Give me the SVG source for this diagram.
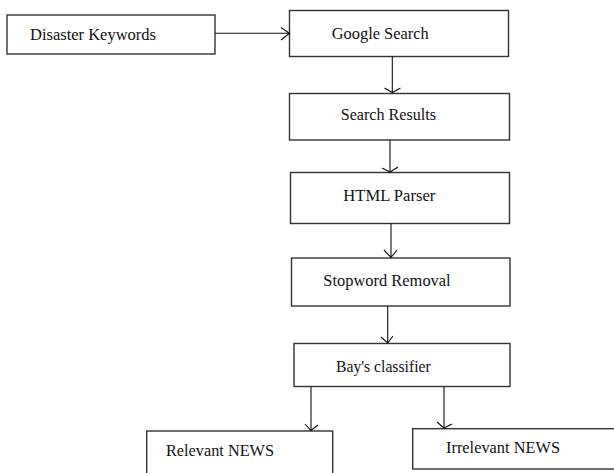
<svg xmlns="http://www.w3.org/2000/svg" width="614" height="473" viewBox="0 0 614 473">
<style>
.box{fill:#fff;stroke:#333;stroke-width:1.4}
.lbl{font-family:"Liberation Serif","Times New Roman",serif;font-size:17px;fill:#111}
.ln{stroke:#111;stroke-width:1.1;fill:none}
</style>
<rect width="614" height="473" fill="#fff"/>
<g id="disaster-keywords"><rect class="box" x="7" y="15" width="208" height="39"/><text class="lbl" x="30" y="40" textLength="126" lengthAdjust="spacingAndGlyphs">Disaster Keywords</text></g>
<g id="google-search"><rect class="box" x="289.5" y="10.5" width="219" height="46"/><text class="lbl" x="331.7" y="39.3" textLength="97" lengthAdjust="spacingAndGlyphs">Google Search</text></g>
<g id="search-results"><rect class="box" x="289.5" y="93.5" width="220" height="46.5"/><text class="lbl" x="340.7" y="120" textLength="95.3" lengthAdjust="spacingAndGlyphs">Search Results</text></g>
<g id="html-parser"><rect class="box" x="290.5" y="172.5" width="219" height="51"/><text class="lbl" x="343.3" y="200.7" textLength="92" lengthAdjust="spacingAndGlyphs">HTML Parser</text></g>
<g id="stopword-removal"><rect class="box" x="291.5" y="258" width="218.5" height="48"/><text class="lbl" x="323.3" y="286" textLength="127.4" lengthAdjust="spacingAndGlyphs">Stopword Removal</text></g>
<g id="bays-classifier"><rect class="box" x="294" y="343.5" width="216" height="43"/><text class="lbl" x="336" y="371.7" textLength="94.7" lengthAdjust="spacingAndGlyphs">Bay's classifier</text></g>
<g id="relevant-news"><rect class="box" x="146.7" y="431" width="186" height="50"/><text class="lbl" x="166" y="455.7" textLength="108" lengthAdjust="spacingAndGlyphs">Relevant NEWS</text></g>
<g id="irrelevant-news"><rect class="box" x="412.7" y="428.7" width="210" height="40.3"/><text class="lbl" x="446" y="453.3" textLength="114" lengthAdjust="spacingAndGlyphs">Irrelevant NEWS</text></g>
<g id="connectors">
<path class="ln" d="M215 33.3H289.5M281 27.5L289.5 33.3L281 40"/>
<path class="ln" d="M392.3 56.7V93.5M384.5 88L392.3 92.5L400.5 88"/>
<path class="ln" d="M390 140V172.5M382 168L390 172L398 167"/>
<path class="ln" d="M391 223.5V258M384 250L391 257.5L397 250"/>
<path class="ln" d="M387.7 306V343.5M381 337L387.7 343L393 336"/>
<path class="ln" d="M311 386.5V431M305 424L311 430.5L318 425"/>
<path class="ln" d="M444 386.5V428.7M437 422L444 428L452 424"/>
</g>
</svg>
